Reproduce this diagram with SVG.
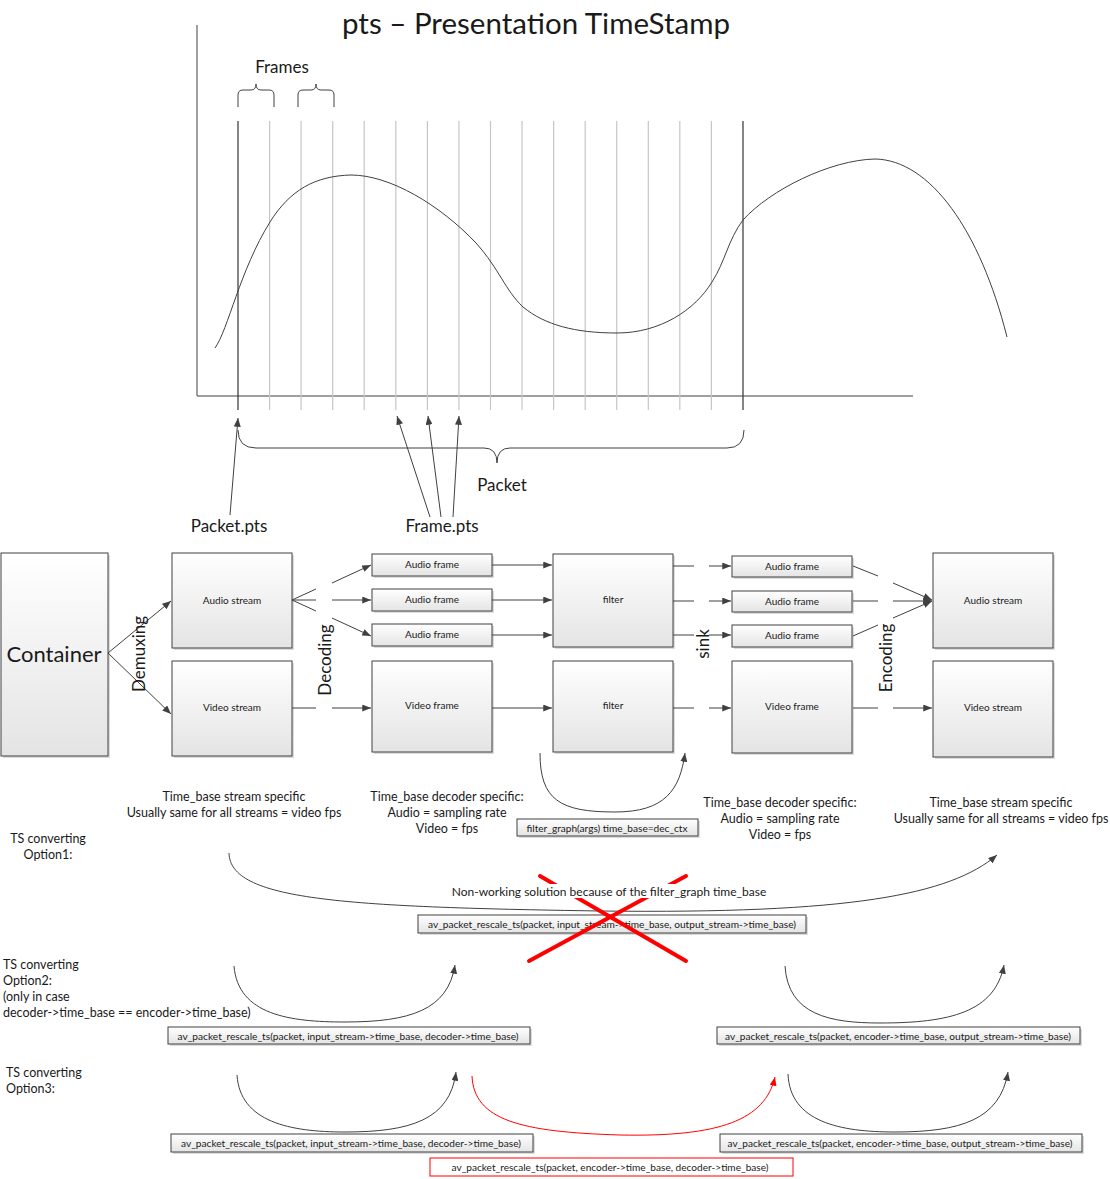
<svg xmlns="http://www.w3.org/2000/svg" width="1110" height="1179" viewBox="0 0 1110 1179">
<defs>
<linearGradient id="g" x1="0" y1="0" x2="0" y2="1">
<stop offset="0" stop-color="#ffffff"/>
<stop offset="1" stop-color="#e4e4e4"/>
</linearGradient>
<marker id="a" viewBox="0 0 10 8" refX="10" refY="4" markerWidth="9" markerHeight="7" orient="auto" markerUnits="userSpaceOnUse">
<path d="M0,0 L10,4 L0,8 z" fill="#404040"/>
</marker>
<marker id="ar" viewBox="0 0 10 8" refX="10" refY="4" markerWidth="9" markerHeight="7" orient="auto" markerUnits="userSpaceOnUse">
<path d="M0,0 L10,4 L0,8 z" fill="#ff0000"/>
</marker>
</defs>
<style>
.box{fill:url(#g);stroke:#404040;stroke-width:1}
.sh{fill:#dcdcdc}
.t{font-family:Lato,'Liberation Sans',sans-serif;fill:#1a1a1a}
.c{text-anchor:middle}
.ln{stroke:#404040;stroke-width:1;fill:none}
.grid{stroke:#c6c6c6;stroke-width:1.2}
.dark{stroke:#333;stroke-width:1.2}
.red{stroke:#ff0000;stroke-width:4;stroke-linecap:round}
</style>
<rect width="1110" height="1179" fill="#ffffff"/>

<g id="title">
<text class="t c" x="536" y="34" font-size="29.5">pts – Presentation TimeStamp</text>
</g>

<g id="chart">
<line class="ln" x1="197" y1="25" x2="197" y2="396" stroke="#333"/>
<line class="ln" x1="197" y1="396" x2="913" y2="396" stroke="#333"/>
<g class="grid">
<line x1="269.6" y1="121" x2="269.6" y2="410"/>
<line x1="301.1" y1="121" x2="301.1" y2="410"/>
<line x1="332.7" y1="121" x2="332.7" y2="410"/>
<line x1="364.2" y1="121" x2="364.2" y2="410"/>
<line x1="395.8" y1="121" x2="395.8" y2="410"/>
<line x1="427.4" y1="121" x2="427.4" y2="410"/>
<line x1="458.9" y1="121" x2="458.9" y2="410"/>
<line x1="490.5" y1="121" x2="490.5" y2="410"/>
<line x1="522.0" y1="121" x2="522.0" y2="410"/>
<line x1="553.6" y1="121" x2="553.6" y2="410"/>
<line x1="585.2" y1="121" x2="585.2" y2="410"/>
<line x1="616.7" y1="121" x2="616.7" y2="410"/>
<line x1="648.3" y1="121" x2="648.3" y2="410"/>
<line x1="679.8" y1="121" x2="679.8" y2="410"/>
<line x1="711.4" y1="121" x2="711.4" y2="410"/>
</g>
<line class="dark" x1="238" y1="121" x2="238" y2="410"/>
<line class="dark" x1="743" y1="121" x2="743" y2="410"/>
<path class="ln" stroke="#333" d="M215,348 C228,330 240,270 270,222 C290,190 315,176 351,175 C390,175 440,205 476,243 C500,270 505,290 523,307 C545,325 575,333 617,333 C660,333 695,310 712,282 C725,262 728,240 743,220 C770,190 830,160 875,159 C930,160 980,230 1007,337"/>
<path class="ln" d="M238,107 L238,95 Q238,90 243,90 L251,90 Q256,90 256,84 Q256,90 261,90 L269,90 Q274,90 274,95 L274,107"/>
<path class="ln" d="M298,107 L298,95 Q298,90 303,90 L311,90 Q316,90 316,84 Q316,90 321,90 L329,90 Q334,90 334,95 L334,107"/>
<text class="t c" x="282" y="73" font-size="17">Frames</text>
<path class="ln" d="M238,430 Q238,448 256,448 L484,448 Q497,448 497,463 Q497,448 510,448 L727,448 Q744,448 744,430"/>
<text class="t c" x="502" y="491" font-size="17">Packet</text>
<text class="t c" x="229" y="532" font-size="17">Packet.pts</text>
<text class="t c" x="442" y="532" font-size="17">Frame.pts</text>
</g>

<g id="nodes">
<g id="container"><rect class="sh" x="3" y="555" width="107" height="203"/><rect class="box" x="1" y="553" width="107" height="203"/><text class="t c" x="54" y="662" font-size="22">Container</text></g>
<g id="audio-stream-in"><rect class="sh" x="174" y="555" width="120" height="95"/><rect class="box" x="172" y="553" width="120" height="95"/><text class="t c" x="232" y="604" font-size="10">Audio stream</text></g>
<g id="video-stream-in"><rect class="sh" x="174" y="663" width="120" height="95"/><rect class="box" x="172" y="661" width="120" height="95"/><text class="t c" x="232" y="711" font-size="10">Video stream</text></g>
<g id="audio-frame-1"><rect class="sh" x="374" y="556" width="120" height="22"/><rect class="box" x="372" y="554" width="120" height="22"/><text class="t c" x="432" y="568" font-size="10">Audio frame</text></g>
<g id="audio-frame-2"><rect class="sh" x="374" y="591" width="120" height="22"/><rect class="box" x="372" y="589" width="120" height="22"/><text class="t c" x="432" y="603" font-size="10">Audio frame</text></g>
<g id="audio-frame-3"><rect class="sh" x="374" y="626" width="120" height="22"/><rect class="box" x="372" y="624" width="120" height="22"/><text class="t c" x="432" y="638" font-size="10">Audio frame</text></g>
<g id="video-frame-1"><rect class="sh" x="374" y="663" width="120" height="91"/><rect class="box" x="372" y="661" width="120" height="91"/><text class="t c" x="432" y="709" font-size="10">Video frame</text></g>
<g id="filter-audio"><rect class="sh" x="555" y="556" width="120" height="93"/><rect class="box" x="553" y="554" width="120" height="93"/><text class="t c" x="613" y="603" font-size="10">filter</text></g>
<g id="filter-video"><rect class="sh" x="555" y="663" width="120" height="91"/><rect class="box" x="553" y="661" width="120" height="91"/><text class="t c" x="613" y="709" font-size="10">filter</text></g>
<g id="audio-frame-4"><rect class="sh" x="734" y="558" width="120" height="21"/><rect class="box" x="732" y="556" width="120" height="21"/><text class="t c" x="792" y="570" font-size="10">Audio frame</text></g>
<g id="audio-frame-5"><rect class="sh" x="734" y="593" width="120" height="21"/><rect class="box" x="732" y="591" width="120" height="21"/><text class="t c" x="792" y="605" font-size="10">Audio frame</text></g>
<g id="audio-frame-6"><rect class="sh" x="734" y="627" width="120" height="22"/><rect class="box" x="732" y="625" width="120" height="22"/><text class="t c" x="792" y="639" font-size="10">Audio frame</text></g>
<g id="video-frame-2"><rect class="sh" x="734" y="663" width="120" height="92"/><rect class="box" x="732" y="661" width="120" height="92"/><text class="t c" x="792" y="710" font-size="10">Video frame</text></g>
<g id="audio-stream-out"><rect class="sh" x="935" y="555" width="120" height="95"/><rect class="box" x="933" y="553" width="120" height="95"/><text class="t c" x="993" y="604" font-size="10">Audio stream</text></g>
<g id="video-stream-out"><rect class="sh" x="935" y="663" width="120" height="96"/><rect class="box" x="933" y="661" width="120" height="96"/><text class="t c" x="993" y="711" font-size="10">Video stream</text></g>
</g>

<g id="connectors">
<line class="ln" x1="230" y1="515" x2="238" y2="418" marker-end="url(#a)"/>
<line class="ln" x1="430" y1="517" x2="397" y2="416" marker-end="url(#a)"/>
<line class="ln" x1="441" y1="517" x2="428" y2="416" marker-end="url(#a)"/>
<line class="ln" x1="453" y1="517" x2="459" y2="416" marker-end="url(#a)"/>

<line class="ln" x1="108" y1="653" x2="171" y2="601" marker-end="url(#a)"/>
<line class="ln" x1="108" y1="653" x2="171" y2="714" marker-end="url(#a)"/>

<path class="ln" d="M292,600 L316,589 M292,600 L316,600 M292,600 L316,611 M292,708 L316,708"/>
<line class="ln" x1="332" y1="583" x2="371" y2="565" marker-end="url(#a)"/>
<line class="ln" x1="332" y1="600" x2="371" y2="600" marker-end="url(#a)"/>
<line class="ln" x1="332" y1="618" x2="371" y2="636" marker-end="url(#a)"/>
<line class="ln" x1="332" y1="708" x2="371" y2="708" marker-end="url(#a)"/>

<line class="ln" x1="492" y1="565" x2="552" y2="565" marker-end="url(#a)"/>
<line class="ln" x1="492" y1="600" x2="552" y2="600" marker-end="url(#a)"/>
<line class="ln" x1="492" y1="635" x2="552" y2="635" marker-end="url(#a)"/>
<line class="ln" x1="492" y1="708" x2="552" y2="708" marker-end="url(#a)"/>

<path class="ln" d="M673,566 L694,566 M673,601 L694,601 M673,635 L694,635 M673,708 L694,708"/>
<line class="ln" x1="709" y1="566" x2="731" y2="566" marker-end="url(#a)"/>
<line class="ln" x1="709" y1="601" x2="731" y2="601" marker-end="url(#a)"/>
<line class="ln" x1="709" y1="635" x2="731" y2="635" marker-end="url(#a)"/>
<line class="ln" x1="709" y1="708" x2="731" y2="708" marker-end="url(#a)"/>

<path class="ln" d="M853,566 L878,576 M853,601 L878,601 M853,636 L878,625 M853,708 L878,708"/>
<line class="ln" x1="893" y1="583" x2="932" y2="600" marker-end="url(#a)"/>
<line class="ln" x1="893" y1="601" x2="932" y2="601" marker-end="url(#a)"/>
<line class="ln" x1="893" y1="618" x2="932" y2="601" marker-end="url(#a)"/>
<line class="ln" x1="893" y1="708" x2="932" y2="708" marker-end="url(#a)"/>

<path class="ln" d="M540,753 C540,800 560,812 615,812 C665,812 680,790 685,753" marker-end="url(#a)"/>
<path class="ln" d="M229,853 C230,900 340,907 600,911 C850,914 950,895 997,855" marker-end="url(#a)"/>
<path class="ln" d="M234,966 C238,1015 290,1022 345,1022 C410,1022 448,1010 455,965" marker-end="url(#a)"/>
<path class="ln" d="M785,966 C788,1015 830,1023 880,1023 C950,1023 995,1012 1004,965" marker-end="url(#a)"/>
<path class="ln" d="M237,1075 C240,1122 290,1132 345,1132 C410,1132 450,1120 456,1072" marker-end="url(#a)"/>
<path class="ln" d="M788,1074 C790,1122 840,1132 895,1132 C960,1132 1000,1120 1008,1072" marker-end="url(#a)"/>
<path fill="none" stroke="#ff0000" stroke-width="1" d="M472,1076 C474,1120 520,1132 620,1135 C720,1137 765,1120 775,1077" marker-end="url(#ar)"/>
</g>

<g id="stage-labels">
<text class="t c" transform="translate(145,654) rotate(-90)" font-size="17">Demuxing</text>
<text class="t c" transform="translate(331,660) rotate(-90)" font-size="17">Decoding</text>
<text class="t c" transform="translate(709,644) rotate(-90)" font-size="17">sink</text>
<text class="t c" transform="translate(892,658) rotate(-90)" font-size="17">Encoding</text>
</g>

<g id="notes">
<text class="t c" x="234" y="801" font-size="12.5">Time_base stream specific</text>
<text class="t c" x="234" y="817" font-size="12.5">Usually same for all streams = video fps</text>
<text class="t c" x="447" y="801" font-size="12.5">Time_base decoder specific:</text>
<text class="t c" x="447" y="817" font-size="12.5">Audio = sampling rate</text>
<text class="t c" x="447" y="833" font-size="12.5">Video = fps</text>
<text class="t c" x="780" y="807" font-size="12.5">Time_base decoder specific:</text>
<text class="t c" x="780" y="823" font-size="12.5">Audio = sampling rate</text>
<text class="t c" x="780" y="839" font-size="12.5">Video = fps</text>
<text class="t c" x="1001" y="807" font-size="12.5">Time_base stream specific</text>
<text class="t c" x="1001" y="823" font-size="12.5">Usually same for all streams = video fps</text>
<text class="t c" x="48" y="843" font-size="12.5">TS converting</text>
<text class="t c" x="48" y="859" font-size="12.5">Option1:</text>
<text class="t" x="3" y="969" font-size="12.5">TS converting</text>
<text class="t" x="3" y="985" font-size="12.5">Option2:</text>
<text class="t" x="3" y="1001" font-size="12.5">(only in case</text>
<text class="t" x="3" y="1017" font-size="12.5">decoder-&gt;time_base == encoder-&gt;time_base)</text>
<text class="t" x="6" y="1077" font-size="12.5">TS converting</text>
<text class="t" x="6" y="1093" font-size="12.5">Option3:</text>
</g>

<g id="filter-graph-box">
<rect class="sh" x="519" y="821" width="181" height="17"/><rect class="box" x="517" y="819" width="181" height="17"/>
<text class="t c" x="607" y="831.5" font-size="10" textLength="161" lengthAdjust="spacingAndGlyphs">filter_graph(args) time_base=dec_ctx</text>
</g>

<g id="option1-box">
<rect class="sh" x="420" y="917" width="388" height="18"/><rect class="box" x="418" y="915" width="388" height="18"/>
<text class="t c" x="612" y="928" font-size="10" textLength="368" lengthAdjust="spacingAndGlyphs">av_packet_rescale_ts(packet, input_stream-&gt;time_base, output_stream-&gt;time_base)</text>
</g>

<g id="red-cross">
<line class="red" x1="540" y1="876" x2="686" y2="961"/>
<line class="red" x1="686" y1="876" x2="529" y2="961"/>
<rect x="460" y="884" width="298" height="14" fill="#ffffff"/>
<text class="t c" x="609" y="895.5" font-size="12">Non-working solution because of the filter_graph time_base</text>
</g>

<g id="option2-left-box">
<rect class="sh" x="170" y="1029" width="362" height="17"/><rect class="box" x="168" y="1027" width="362" height="17"/>
<text class="t c" x="348" y="1039.5" font-size="10" textLength="341" lengthAdjust="spacingAndGlyphs">av_packet_rescale_ts(packet, input_stream-&gt;time_base, decoder-&gt;time_base)</text>
</g>
<g id="option2-right-box">
<rect class="sh" x="719" y="1029" width="363" height="17"/><rect class="box" x="717" y="1027" width="363" height="17"/>
<text class="t c" x="898" y="1039.5" font-size="10" textLength="346" lengthAdjust="spacingAndGlyphs">av_packet_rescale_ts(packet, encoder-&gt;time_base, output_stream-&gt;time_base)</text>
</g>
<g id="option3-left-box">
<rect class="sh" x="173" y="1136" width="362" height="18"/><rect class="box" x="171" y="1134" width="362" height="18"/>
<text class="t c" x="351" y="1147" font-size="10" textLength="340" lengthAdjust="spacingAndGlyphs">av_packet_rescale_ts(packet, input_stream-&gt;time_base, decoder-&gt;time_base)</text>
</g>
<g id="option3-right-box">
<rect class="sh" x="722" y="1136" width="362" height="18"/><rect class="box" x="720" y="1134" width="362" height="18"/>
<text class="t c" x="900" y="1147" font-size="10" textLength="345" lengthAdjust="spacingAndGlyphs">av_packet_rescale_ts(packet, encoder-&gt;time_base, output_stream-&gt;time_base)</text>
</g>
<g id="option3-red-box">
<rect x="430" y="1158" width="363" height="18" fill="#ffffff" stroke="#ff0000" stroke-width="1"/>
<text class="t c" x="610" y="1171" font-size="10" textLength="317" lengthAdjust="spacingAndGlyphs">av_packet_rescale_ts(packet, encoder-&gt;time_base, decoder-&gt;time_base)</text>
</g>
</svg>
